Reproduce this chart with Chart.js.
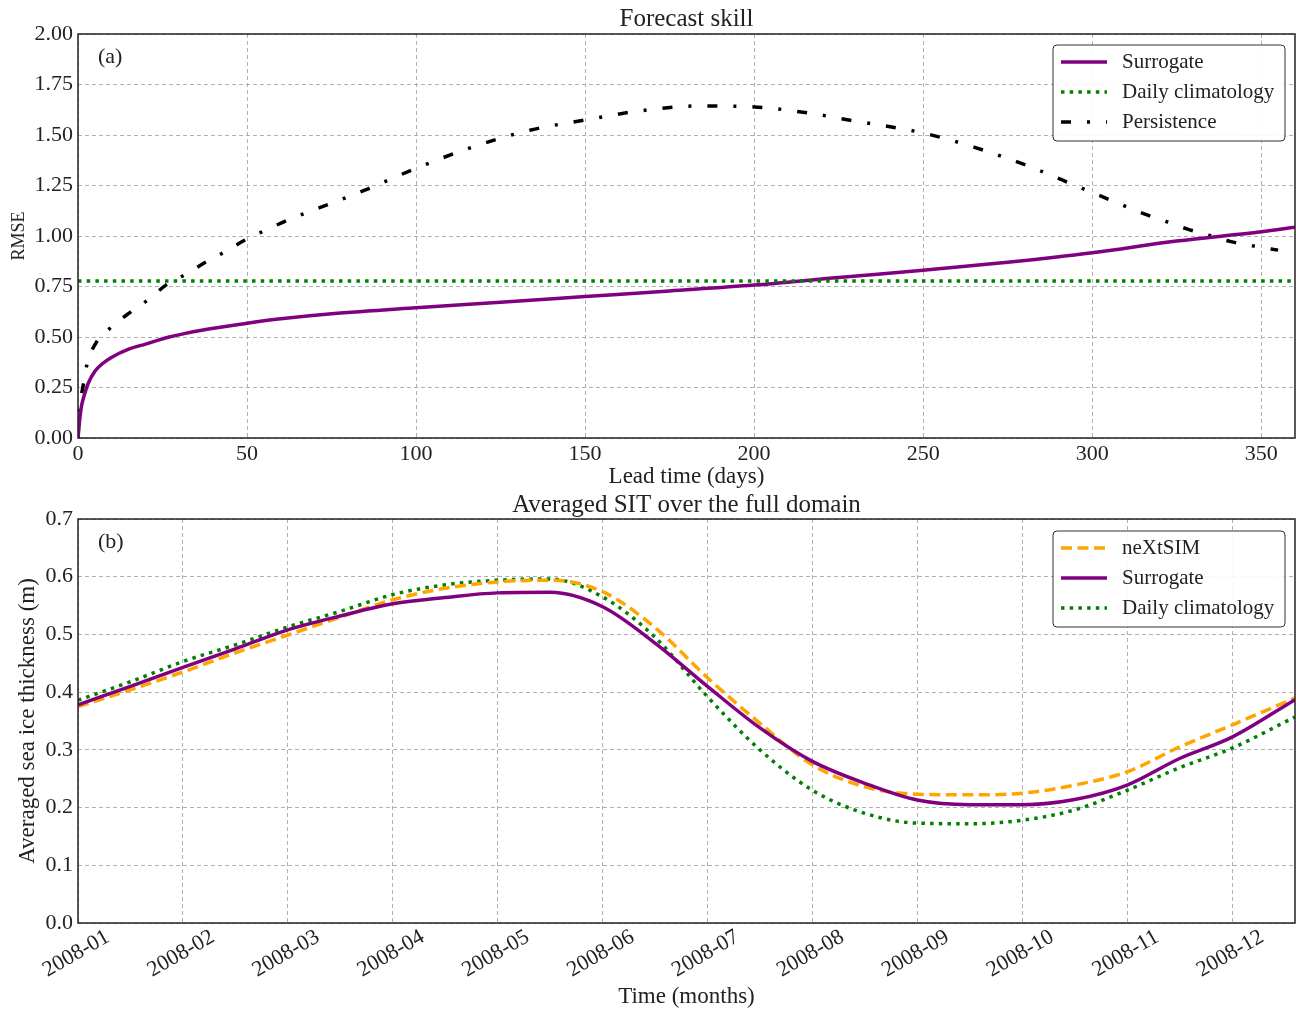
<!DOCTYPE html>
<html>
<head>
<meta charset="utf-8">
<script src="https://cdn.jsdelivr.net/npm/chart.js@4.4.0/dist/chart.umd.min.js"></script>
<style>
  html, body { margin: 0; padding: 0; background: #fff; }
  #wrap { position: relative; width: 1296px; height: 1010px; }
  #skillChart { position: absolute; left: 0; top: 0; }
  #sitChart { position: absolute; left: 0; top: 490px; }
</style>
</head>
<body>
<div id="wrap">
  <canvas id="skillChart" width="1296" height="490"></canvas>
  <canvas id="sitChart" width="1296" height="520"></canvas>
</div>
<script>
// ---- panel (a): forecast skill ----
const surrogateDays = [0, 0.5, 1, 2, 3, 5, 7, 10, 15, 20, 27, 37, 50, 60, 75, 100, 125, 150, 175, 200, 225, 250, 275, 300, 325, 350, 360];
const surrogateRmse = [0, 0.09, 0.155, 0.22, 0.27, 0.33, 0.365, 0.40, 0.44, 0.465, 0.50, 0.535, 0.568, 0.59, 0.615, 0.645, 0.672, 0.70, 0.728, 0.757, 0.795, 0.83, 0.87, 0.917, 0.975, 1.021, 1.043];
const climDays = [0, 360];
const climRmse = [0.777, 0.777];
const persistenceDays = [0, 0.4, 1.4, 2.6, 5.3, 10, 15, 21, 26, 32, 38, 43.5, 49.4, 55, 63, 77, 86, 100, 116, 134, 150, 166, 184, 200, 216, 228, 250, 265, 281, 296, 309, 315, 322, 328, 335, 341, 348, 355];
const persistenceRmse = [0, 0.14, 0.247, 0.36, 0.47, 0.551, 0.617, 0.687, 0.757, 0.812, 0.873, 0.922, 0.98, 1.025, 1.085, 1.175, 1.235, 1.335, 1.436, 1.525, 1.574, 1.619, 1.644, 1.639, 1.609, 1.574, 1.51, 1.44, 1.347, 1.243, 1.153, 1.112, 1.071, 1.035, 1.001, 0.972, 0.95, 0.93];

// ---- panel (b): averaged SIT ----
const monthLabels = ['2008-01', '2008-02', '2008-03', '2008-04', '2008-05', '2008-06', '2008-07', '2008-08', '2008-09', '2008-10', '2008-11', '2008-12'];
const monthPos = [0, 0.5, 1, 1.5, 2, 2.5, 3, 3.5, 4, 4.5, 5, 5.5, 6, 6.5, 7, 7.5, 8, 8.5, 9, 9.5, 10, 10.5, 11, 11.6];
const nextsimSit = [0.375, 0.404, 0.435, 0.468, 0.499, 0.530, 0.560, 0.580, 0.591, 0.594, 0.574, 0.512, 0.425, 0.346, 0.274, 0.236, 0.223, 0.222, 0.225, 0.239, 0.262, 0.305, 0.343, 0.39];
const surrogateSit = [0.378, 0.41, 0.443, 0.475, 0.508, 0.532, 0.553, 0.564, 0.572, 0.573, 0.548, 0.485, 0.41, 0.338, 0.28, 0.242, 0.213, 0.205, 0.205, 0.214, 0.239, 0.285, 0.322, 0.387];
const climSit = [0.386, 0.418, 0.453, 0.482, 0.513, 0.54, 0.569, 0.586, 0.594, 0.596, 0.565, 0.495, 0.392, 0.30, 0.23, 0.19, 0.173, 0.172, 0.178, 0.196, 0.23, 0.269, 0.303, 0.357];

const rmseTicks = [0, 0.25, 0.5, 0.75, 1.0, 1.25, 1.5, 1.75, 2.0];

const serif = "'Liberation Serif', 'DejaVu Serif', serif";
const gridStyle = { color: '#b0b0b0', lineWidth: 1, drawTicks: false };
const gridDash = [4, 3];

function pts(xs, ys) {
    return xs.map((x, i) => ({ x: x, y: ys[i] }));
}

// frame, panel tag and boxed legend drawn after the datasets
const framePlugin = {
    id: 'frameAndLegend',
    afterDraw(chart, args, opts) {
        const ctx = chart.ctx;
        const a = chart.chartArea;
        ctx.save();
        ctx.strokeStyle = '#222';
        ctx.lineWidth = 1.5;
        ctx.strokeRect(a.left, a.top, a.right - a.left, a.bottom - a.top);

        ctx.fillStyle = '#222';
        ctx.font = '22px ' + serif;
        ctx.textAlign = 'left';
        ctx.textBaseline = 'middle';
        ctx.fillText(opts.tag, a.left + 20, a.top + 23);

        const bw = 232, bh = 96;
        const bx = a.right - 10 - bw, by = a.top + opts.boxTop;
        ctx.beginPath();
        ctx.roundRect(bx, by, bw, bh, 4);
        ctx.fillStyle = 'rgba(255,255,255,0.9)';
        ctx.fill();
        ctx.strokeStyle = '#333';
        ctx.lineWidth = 1;
        ctx.stroke();

        opts.order.forEach((di, row) => {
            const ds = chart.data.datasets[di];
            const y = by + 17 + row * 30;
            ctx.beginPath();
            ctx.setLineDash(ds.borderDash || []);
            ctx.strokeStyle = ds.borderColor;
            ctx.lineWidth = ds.borderWidth;
            ctx.lineCap = 'butt';
            ctx.moveTo(bx + 8, y);
            ctx.lineTo(bx + 54, y);
            ctx.stroke();
            ctx.setLineDash([]);
            ctx.fillStyle = '#222';
            ctx.font = '21px ' + serif;
            ctx.fillText(ds.label, bx + 69, y);
        });
        ctx.restore();
    }
};

Chart.defaults.font.family = serif;
Chart.defaults.color = '#222';

new Chart(document.getElementById('skillChart'), {
    type: 'line',
    data: {
        datasets: [
            { label: 'Surrogate', data: pts(surrogateDays, surrogateRmse), borderColor: '#800080', borderWidth: 3.5, order: 2 },
            { label: 'Daily climatology', data: pts(climDays, climRmse), borderColor: '#008000', borderWidth: 3.5, borderDash: [3.5, 5.2], order: 1 },
            { label: 'Persistence', data: pts(persistenceDays, persistenceRmse), borderColor: '#000', borderWidth: 3.5, borderDash: [10, 16, 3, 16], order: 3 }
        ]
    },
    options: {
        responsive: false,
        animation: false,
        elements: { point: { radius: 0 }, line: { cubicInterpolationMode: 'monotone', borderCapStyle: 'butt' } },
        layout: { padding: { left: 0, right: 1, top: 0, bottom: 0 } },
        scales: {
            x: {
                type: 'linear', min: 0, max: 360,
                grid: gridStyle, border: { display: false, dash: gridDash },
                ticks: { stepSize: 50, includeBounds: false, autoSkip: false, maxRotation: 0, padding: 3, font: { size: 22 } },
                title: { display: true, text: 'Lead time (days)', font: { size: 23, lineHeight: 1 }, padding: { top: 0, bottom: 1.5 } },
                afterFit(scale) { scale.height = 52; }
            },
            y: {
                min: 0, max: 2,
                grid: gridStyle, border: { display: false, dash: gridDash },
                afterBuildTicks(scale) { scale.ticks = rmseTicks.map(v => ({ value: v })); },
                ticks: { padding: 5, font: { size: 22 }, callback: v => v.toFixed(2) },
                title: { display: true, text: 'RMSE', font: { size: 18, lineHeight: 1 }, padding: { top: 10, bottom: 0 } },
                afterFit(scale) { scale.width = 78; }
            }
        },
        plugins: {
            legend: { display: false },
            tooltip: { enabled: false },
            title: { display: true, fullSize: false, text: 'Forecast skill', font: { size: 25, weight: 'normal', lineHeight: 1 }, padding: { top: 7, bottom: 2 }, color: '#222' },
            frameAndLegend: { tag: '(a)', boxTop: 11, order: [0, 1, 2] }
        }
    },
    plugins: [framePlugin]
});

new Chart(document.getElementById('sitChart'), {
    type: 'line',
    data: {
        datasets: [
            { label: 'neXtSIM', data: pts(monthPos, nextsimSit), borderColor: '#ffa500', borderWidth: 3.5, borderDash: [11, 5.5], order: 2 },
            { label: 'Surrogate', data: pts(monthPos, surrogateSit), borderColor: '#800080', borderWidth: 3.5, order: 1 },
            { label: 'Daily climatology', data: pts(monthPos, climSit), borderColor: '#008000', borderWidth: 3.5, borderDash: [3.5, 5.2], order: 3 }
        ]
    },
    options: {
        responsive: false,
        animation: false,
        elements: { point: { radius: 0 }, line: { cubicInterpolationMode: 'monotone', borderCapStyle: 'butt' } },
        layout: { padding: { left: 0, right: 1, top: 0, bottom: 0 } },
        scales: {
            x: {
                type: 'linear', min: 0, max: 11.6,
                grid: gridStyle, border: { display: false, dash: gridDash },
                ticks: {
                    stepSize: 1, includeBounds: false, autoSkip: false,
                    minRotation: 30, maxRotation: 30, padding: 1, labelOffset: 30,
                    font: { size: 22 },
                    callback: v => monthLabels[Math.round(v)]
                },
                title: { display: true, text: 'Time (months)', font: { size: 23, lineHeight: 1 }, padding: { top: 0, bottom: 1.5 } },
                afterFit(scale) { scale.height = 87; }
            },
            y: {
                min: 0, max: 0.7,
                grid: gridStyle, border: { display: false, dash: gridDash },
                ticks: { stepSize: 0.1, padding: 5, font: { size: 22 }, callback: v => v.toFixed(1) },
                title: { display: true, text: 'Averaged sea ice thickness (m)', font: { size: 23, lineHeight: 1 }, padding: { top: 16.5, bottom: 0 } },
                afterFit(scale) { scale.width = 78; }
            }
        },
        plugins: {
            legend: { display: false },
            tooltip: { enabled: false },
            title: { display: true, fullSize: false, text: 'Averaged SIT over the full domain', font: { size: 25, weight: 'normal', lineHeight: 1 }, padding: { top: 2.5, bottom: 1.5 }, color: '#222' },
            frameAndLegend: { tag: '(b)', boxTop: 12, order: [0, 1, 2] }
        }
    },
    plugins: [framePlugin]
});
</script>
</body>
</html>
